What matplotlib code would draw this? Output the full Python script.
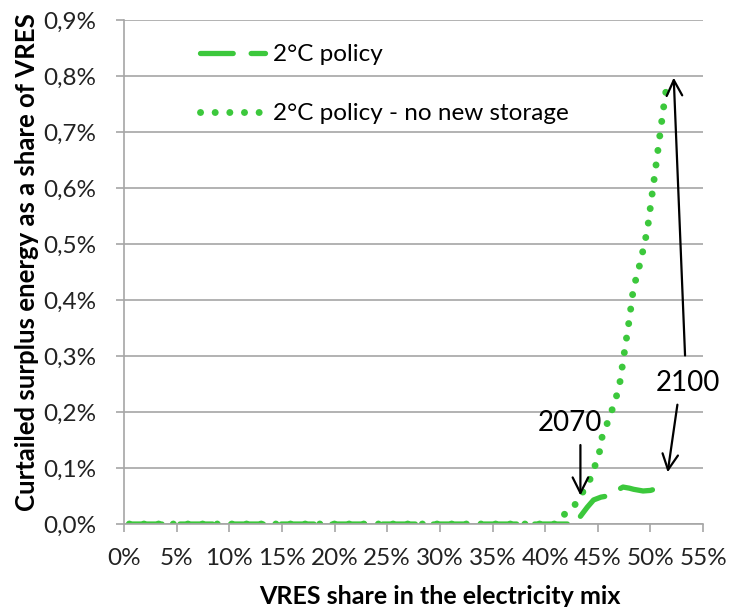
import matplotlib
matplotlib.use("Agg")
import matplotlib.pyplot as plt

# VRES share (%) vs curtailed surplus energy (% of VRES)
x_policy = [0.5, 43.0, 43.3, 44.0, 44.6, 45.3, 45.9, 46.6, 47.4, 48.0, 48.4, 49.3, 50.0, 50.7]
y_policy = [0.0, 0.0, 0.0125, 0.030, 0.043, 0.048, 0.050, 0.058, 0.066, 0.064, 0.062, 0.059, 0.060, 0.064]

x_nostore = [0.5, 41.0, 41.5, 42.65, 44.17, 44.65, 45.12, 45.31, 45.88, 46.36, 46.8, 47.12,
             47.56, 48.0, 48.38, 49.08, 49.71, 50.09, 50.47, 50.85, 51.23, 51.65]
y_nostore = [0.0, 0.0, 0.0125, 0.029, 0.075, 0.100, 0.123, 0.150, 0.179, 0.204, 0.230, 0.255,
             0.311, 0.366, 0.420, 0.470, 0.525, 0.579, 0.632, 0.6875, 0.741, 0.796]

x_ticks = [0, 5, 10, 15, 20, 25, 30, 35, 40, 45, 50, 55]
y_ticks = [0.0, 0.1, 0.2, 0.3, 0.4, 0.5, 0.6, 0.7, 0.8, 0.9]

green = "#3CC83C"
grey = "#A6A6A6"
plt.rcParams["font.family"] = ["Lato", "DejaVu Sans"]

fig = plt.figure(figsize=(7.3, 6.07), dpi=100)
ax = fig.add_axes([0.1699, 0.1367, 0.7932, 0.8304])

ax.plot(x_policy, y_policy, color=green, lw=3.8, dashes=(6.2, 3.4),
        dash_capstyle="round", label="2°C policy")
ax.plot(x_nostore, y_nostore, color=green, lw=5.0, dashes=(0.01, 2.1),
        dash_capstyle="round", label="2°C policy - no new storage")

ax.set_xlim(0, 55)
ax.set_ylim(0, 0.9)
ax.set_xticks(x_ticks)
ax.set_xticklabels(["%d%%" % v for v in x_ticks])
ax.set_yticks(y_ticks)
ax.set_yticklabels([("%.1f%%" % v).replace(".", ",") for v in y_ticks])
ax.yaxis.grid(True, color=grey, lw=1.2)
ax.set_axisbelow(True)
for s in ["top", "right"]:
    ax.spines[s].set_visible(False)
for s in ["left", "bottom"]:
    ax.spines[s].set_color(grey)
    ax.spines[s].set_linewidth(1.2)
ax.tick_params(axis="both", colors=grey, length=6, width=1.2, labelsize=17.5,
               labelcolor="#222222")
ax.tick_params(axis="x", pad=11)
ax.tick_params(axis="y", pad=14)

# axis titles placed relative to the whole figure, like the original
fig.text(440 / 730, 1 - 596 / 607, "VRES share in the electricity mix", fontsize=18,
         fontweight="bold", ha="center", va="center")
fig.text(27 / 730, 1 - 262 / 607, "Curtailed surplus energy as a share of VRES",
         fontsize=18.5, fontweight="bold", ha="center", va="center", rotation=90)

ax.legend(loc="upper left", bbox_to_anchor=(0.093, 0.995), frameon=False, fontsize=17.5,
          handlelength=2.7, handletextpad=0.3, labelspacing=1.55)

arrow = dict(arrowstyle="->", color="black", lw=1.6, mutation_scale=28)
ax.annotate("", xy=(43.35, 0.046), xytext=(43.35, 0.146), arrowprops=arrow)
ax.text(42.4, 0.18, "2070", fontsize=20, ha="center", va="center")
ax.annotate("", xy=(52.2, 0.802), xytext=(53.3, 0.296), arrowprops=arrow,
            annotation_clip=False)
ax.annotate("", xy=(51.6, 0.0875), xytext=(52.6, 0.218), arrowprops=arrow,
            annotation_clip=False)
ax.text(53.6, 0.252, "2100", fontsize=20, ha="center", va="center", clip_on=False)

fig.savefig("out.png", dpi=100)
